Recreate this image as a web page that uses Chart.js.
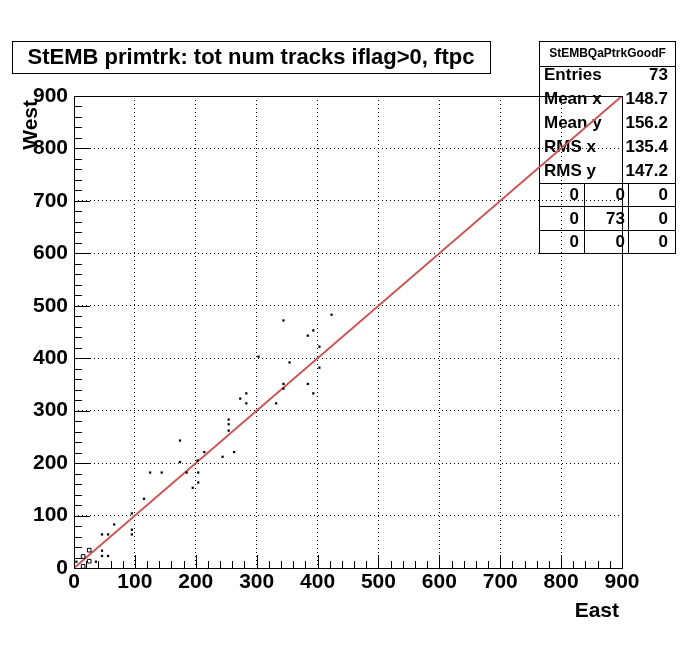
<!DOCTYPE html>
<html>
<head>
<meta charset="utf-8">
<script src="https://cdn.jsdelivr.net/npm/chart.js@4/dist/chart.umd.min.js"></script>
<style>
body { margin: 0; background: #fff; }
</style>
</head>
<body>
<canvas id="chart" width="696" height="668"></canvas>
<script>
// single entries (filled dots)
const eastValues = [4, 36, 46, 56, 46, 46, 56, 66, 95, 95, 95, 115, 125, 144, 185, 174, 174, 195, 204, 204, 203, 214, 244, 263, 254, 254, 254, 283, 273, 283, 303, 332, 344, 344, 354, 384, 393, 403, 403, 384, 393, 344, 423];
const westValues = [12, 12, 23, 23, 33, 64, 64, 83, 64, 73, 104, 132, 182, 182, 182, 202, 243, 153, 163, 182, 205, 221, 212, 221, 262, 274, 283, 314, 323, 333, 403, 314, 342, 351, 392, 351, 333, 382, 422, 443, 453, 472, 483];
// bins with several entries (open boxes)
const boxEast = [25, 15, 25, 15];
const boxWest = [34, 22, 13, 3];
const diagonal = [0, 900];
const tickValues = [0, 100, 200, 300, 400, 500, 600, 700, 800, 900];

const titleText = 'StEMB primtrk: tot num tracks iflag>0, ftpc';
const statTitle = 'StEMBQaPtrkGoodF';
const statNames = ['Entries', 'Mean x', 'Mean y', 'RMS x', 'RMS y'];
const statValues = ['73', '148.7', '156.2', '135.4', '147.2'];
const cellValues = [[0, 0, 0], [0, 73, 0], [0, 0, 0]];

const FONT = '"Liberation Sans", Arial, Helvetica, sans-serif';

const decor = {
    id: 'decor',
    beforeDraw(chart) {
        const ctx = chart.ctx;
        ctx.save();
        // title box
        ctx.fillStyle = '#fff';
        ctx.fillRect(12.5, 41.5, 478, 32);
        ctx.strokeStyle = '#000';
        ctx.lineWidth = 1;
        ctx.strokeRect(12.5, 41.5, 478, 32);
        ctx.fillStyle = '#000';
        ctx.font = 'bold 22px ' + FONT;
        ctx.textAlign = 'center';
        ctx.textBaseline = 'middle';
        ctx.fillText(titleText, 251, 58);

        // stats box
        const L = 539.5, R = 675.5, T = 41.5, B = 253.5;
        ctx.fillStyle = '#fff';
        ctx.fillRect(L, T, R - L, B - T);
        ctx.strokeRect(L, T, R - L, B - T);
        ctx.beginPath();
        ctx.moveTo(L, 66.5); ctx.lineTo(R, 66.5);
        ctx.moveTo(L, 183.5); ctx.lineTo(R, 183.5);
        ctx.moveTo(L, 206.5); ctx.lineTo(R, 206.5);
        ctx.moveTo(L, 230.5); ctx.lineTo(R, 230.5);
        ctx.moveTo(584.5, 183.5); ctx.lineTo(584.5, B);
        ctx.moveTo(628.5, 183.5); ctx.lineTo(628.5, B);
        ctx.stroke();
        ctx.fillStyle = '#000';
        ctx.font = 'bold 12px ' + FONT;
        ctx.textAlign = 'center';
        ctx.fillText(statTitle, (L + R) / 2, 54);
        ctx.font = 'bold 17px ' + FONT;
        const rowY = [75, 99, 123, 147, 171];
        statNames.forEach((n, i) => {
            ctx.textAlign = 'left';
            ctx.fillText(n, 544, rowY[i]);
            ctx.textAlign = 'right';
            ctx.fillText(statValues[i], 668, rowY[i]);
        });
        const cellX = [579, 625, 668];
        const cellY = [195, 219, 242];
        cellValues.forEach((row, r) => {
            row.forEach((v, c) => {
                ctx.fillText(String(v), cellX[c], cellY[r]);
            });
        });
        ctx.restore();
    },
    afterDraw(chart) {
        const ctx = chart.ctx;
        const a = chart.chartArea;
        const xs = chart.scales.x, ys = chart.scales.y;
        ctx.save();
        ctx.strokeStyle = '#000';
        ctx.lineWidth = 1;
        ctx.beginPath();
        for (let v = 0; v <= 900; v += 20) {
            const major = v % 100 === 0;
            const px = Math.round(xs.getPixelForValue(v)) + 0.5;
            ctx.moveTo(px, a.bottom);
            ctx.lineTo(px, a.bottom - (major ? 13 : 7));
            const py = Math.round(ys.getPixelForValue(v)) + 0.5;
            ctx.moveTo(a.left, py);
            ctx.lineTo(a.left + (major ? 16 : 8), py);
        }
        ctx.stroke();
        ctx.strokeRect(Math.round(a.left) + 0.5, Math.round(a.top) + 0.5,
            Math.round(a.right - a.left), Math.round(a.bottom - a.top));

        ctx.fillStyle = '#000';
        ctx.font = 'bold 21px ' + FONT;
        ctx.textAlign = 'right';
        ctx.textBaseline = 'middle';
        ctx.fillText('East', 619, 611);
        ctx.translate(31, 100);
        ctx.rotate(-Math.PI / 2);
        ctx.fillText('West', 0, 0);
        ctx.restore();
    }
};

const gridColor = (c) => (c.tick && (c.tick.value === 0 || c.tick.value === 900)) ? 'rgba(0,0,0,0)' : '#000';

new Chart(document.getElementById('chart'), {
    type: 'scatter',
    data: {
        datasets: [{
            data: eastValues.map((e, i) => ({ x: e, y: westValues[i] })),
            pointStyle: 'rect',
            pointRadius: 1.6,
            pointBorderWidth: 0,
            backgroundColor: '#000',
            borderColor: '#000'
        }, {
            data: boxEast.map((e, i) => ({ x: e, y: boxWest[i] })),
            pointStyle: 'rect',
            pointRadius: 2.6,
            pointBorderWidth: 1,
            backgroundColor: 'rgba(0,0,0,0)',
            borderColor: '#000'
        }, {
            type: 'line',
            data: diagonal.map(v => ({ x: v, y: v })),
            borderColor: '#cc5555',
            borderWidth: 2,
            pointRadius: 0,
            fill: false
        }]
    },
    options: {
        responsive: false,
        animation: false,
        devicePixelRatio: 1,
        layout: { padding: { top: 96, right: 74, left: 0, bottom: 0 } },
        plugins: {
            legend: { display: false },
            tooltip: { enabled: false }
        },
        scales: {
            x: {
                type: 'linear',
                min: 0,
                max: 900,
                afterFit(scale) { scale.height = 100; },
                afterBuildTicks(scale) { scale.ticks = tickValues.map(v => ({ value: v })); },
                ticks: {
                    color: '#000',
                    font: { family: FONT, size: 21, weight: 'bold' },
                    padding: 2,
                    maxRotation: 0,
                    autoSkip: false
                },
                grid: { color: gridColor, drawTicks: false, lineWidth: 1 },
                border: { display: false, dash: [1, 3] }
            },
            y: {
                type: 'linear',
                min: 0,
                max: 900,
                afterFit(scale) { scale.width = 74; },
                afterBuildTicks(scale) { scale.ticks = tickValues.map(v => ({ value: v })); },
                ticks: {
                    color: '#000',
                    font: { family: FONT, size: 21, weight: 'bold' },
                    padding: 6,
                    autoSkip: false
                },
                grid: { color: gridColor, drawTicks: false, lineWidth: 1 },
                border: { display: false, dash: [1, 3] }
            }
        }
    },
    plugins: [decor]
});
</script>
</body>
</html>
